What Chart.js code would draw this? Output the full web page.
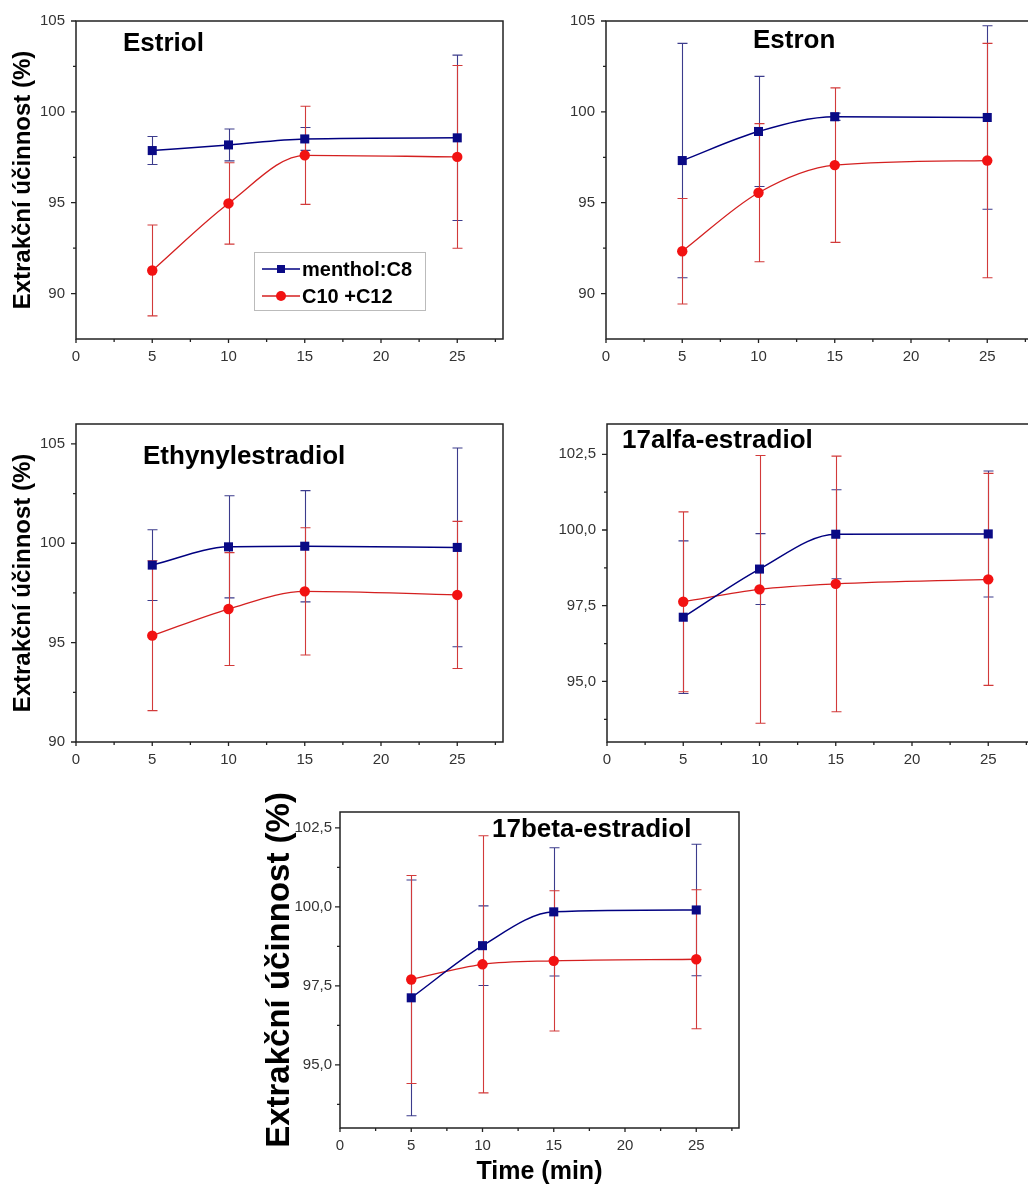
<!DOCTYPE html>
<html>
<head>
<meta charset="utf-8">
<script src="https://cdn.jsdelivr.net/npm/chart.js@4.4.1/dist/chart.umd.min.js"></script>
<style>
  html, body { margin: 0; padding: 0; background: #fff; overflow: hidden; width: 1028px; height: 1189px; }
  canvas { position: absolute; }
</style>
</head>
<body>
<canvas id="p1" width="520" height="380" style="left:0px;top:0px"></canvas>
<canvas id="p2" width="530" height="380" style="left:520px;top:0px"></canvas>
<canvas id="p3" width="520" height="380" style="left:0px;top:400px"></canvas>
<canvas id="p4" width="530" height="380" style="left:520px;top:400px"></canvas>
<canvas id="p5" width="530" height="399" style="left:230px;top:790px"></canvas>
<script>
// extraction time (min) and the two solvents
var times = [5, 10, 15, 25];
var seriesNames = ['menthol:C8', 'C10 +C12'];
var yTitle = 'Extrakční účinnost (%)';
var xTitle = 'Time (min)';

// tick labels
var xTicks = [0, 5, 10, 15, 20, 25];
var xMinor = [2.5, 7.5, 12.5, 17.5, 22.5, 27.5];
var yTicksWhole = [90, 95, 100, 105];
var yMinorWhole = [92.5, 97.5, 102.5];
var yTicksHalf = [95, 97.5, 100, 102.5];
var yMinorHalf = [93.75, 96.25, 98.75, 101.25];

// Estriol
var estriolMenthol = [97.87, 98.18, 98.51, 98.57];
var estriolMentholErr = [0.77, 0.88, 0.63, 4.55];
var estriolC10 = [91.27, 94.96, 97.61, 97.52];
var estriolC10Err = [2.5, 2.24, 2.7, 5.03];

// Estron
var estronMenthol = [97.32, 98.92, 99.73, 99.69];
var estronMentholErr = [6.45, 3.03, 0.2, 5.05];
var estronC10 = [92.33, 95.55, 97.07, 97.32];
var estronC10Err = [2.9, 3.8, 4.25, 6.45];

// Ethynylestradiol
var ethynylMenthol = [98.9, 99.82, 99.85, 99.79];
var ethynylMentholErr = [1.78, 2.57, 2.8, 5.0];
var ethynylC10 = [95.35, 96.69, 97.58, 97.4];
var ethynylC10Err = [3.77, 2.84, 3.2, 3.7];

// 17alfa-estradiol
var alfaMenthol = [97.12, 98.71, 99.86, 99.87];
var alfaMentholErr = [2.52, 1.17, 1.47, 2.08];
var alfaC10 = [97.63, 98.04, 98.22, 98.37];
var alfaC10Err = [2.97, 4.42, 4.22, 3.5];

// 17beta-estradiol
var betaMenthol = [97.12, 98.77, 99.84, 99.9];
var betaMentholErr = [3.73, 1.26, 2.03, 2.08];
var betaC10 = [97.7, 98.18, 98.29, 98.34];
var betaC10Err = [3.29, 4.07, 2.22, 2.2];

var FONT = "'Liberation Sans', Arial, sans-serif";
Chart.defaults.font.family = FONT;
Chart.defaults.color = '#333';

// error bars, frame, ticks, panel name, legend
var panelDeco = {
    id: 'panelDeco',
    beforeDatasetsDraw: function(chart) {
        var ctx = chart.ctx;
        var yScale = chart.scales.y;
        chart.data.datasets.forEach(function(ds, i) {
            var meta = chart.getDatasetMeta(i);
            ctx.save();
            ctx.strokeStyle = ds.errColor;
            ctx.lineWidth = 1.1;
            meta.data.forEach(function(pt, j) {
                var v = ds.data[j].y, e = ds.errors[j];
                var x = Math.round(pt.x) + 0.5;
                var top = yScale.getPixelForValue(v + e);
                var bot = yScale.getPixelForValue(v - e);
                ctx.beginPath();
                ctx.moveTo(x, top); ctx.lineTo(x, bot);
                ctx.moveTo(x - 5, top); ctx.lineTo(x + 5, top);
                ctx.moveTo(x - 5, bot); ctx.lineTo(x + 5, bot);
                ctx.stroke();
            });
            ctx.restore();
        });
    },
    afterDraw: function(chart, args, opts) {
        var ctx = chart.ctx;
        var a = chart.chartArea;
        var xs = chart.scales.x, ys = chart.scales.y;
        ctx.save();
        ctx.strokeStyle = '#222';
        ctx.lineWidth = 1.5;
        ctx.strokeRect(a.left, a.top, a.right - a.left, a.bottom - a.top);
        ctx.lineWidth = 1.3;
        ctx.beginPath();
        opts.yTicks.forEach(function(v) {
            var y = ys.getPixelForValue(v);
            ctx.moveTo(a.left - 5, y); ctx.lineTo(a.left, y);
        });
        opts.yMinor.forEach(function(v) {
            var y = ys.getPixelForValue(v);
            ctx.moveTo(a.left - 3, y); ctx.lineTo(a.left, y);
        });
        xTicks.forEach(function(v) {
            var x = xs.getPixelForValue(v);
            ctx.moveTo(x, a.bottom); ctx.lineTo(x, a.bottom + 4);
        });
        xMinor.forEach(function(v) {
            var x = xs.getPixelForValue(v);
            ctx.moveTo(x, a.bottom); ctx.lineTo(x, a.bottom + 3);
        });
        ctx.stroke();

        // panel name
        ctx.fillStyle = '#000';
        ctx.font = 'bold 26px ' + FONT;
        ctx.textBaseline = 'middle';
        ctx.textAlign = 'left';
        ctx.fillText(opts.label, a.left + opts.labelAt[0], a.top + opts.labelAt[1]);

        if (opts.legend) {
            var bx = a.left + 178, by = a.top + 231;
            ctx.strokeStyle = '#bbb';
            ctx.lineWidth = 1;
            ctx.strokeRect(bx + 0.5, by + 0.5, 171, 58);
            ctx.font = 'bold 20px ' + FONT;
            chart.data.datasets.forEach(function(ds, i) {
                var ry = by + 17 + i * 27;
                ctx.strokeStyle = ds.borderColor;
                ctx.lineWidth = 1.5;
                ctx.beginPath();
                ctx.moveTo(bx + 8, ry); ctx.lineTo(bx + 46, ry);
                ctx.stroke();
                ctx.fillStyle = ds.pointBackgroundColor;
                if (ds.pointStyle === 'rect') {
                    ctx.fillRect(bx + 23, ry - 4, 8, 8);
                } else {
                    ctx.beginPath();
                    ctx.arc(bx + 27, ry, 5, 0, Math.PI * 2);
                    ctx.fill();
                }
                ctx.fillStyle = '#000';
                ctx.fillText(ds.label, bx + 48, ry + 1);
            });
        }
        ctx.restore();
    }
};

function points(vals) {
    return times.map(function(t, i) { return {x: t, y: vals[i]}; });
}

function makePanel(p) {
    var yAll = p.yTicks.concat(p.yMinor).sort(function(a, b) { return a - b; });
    var fmt = function(v) {
        return p.comma ? v.toFixed(1).replace('.', ',') : String(v);
    };
    new Chart(document.getElementById(p.id), {
        type: 'line',
        data: {
            datasets: [{
                label: seriesNames[0],
                data: points(p.menthol),
                errors: p.mentholErr,
                errColor: '#3c3c8c',
                borderColor: '#000080',
                borderWidth: 1.5,
                pointStyle: 'rect',
                pointRadius: 6.4,
                pointBackgroundColor: '#0a0a85',
                pointBorderWidth: 0,
                cubicInterpolationMode: 'monotone'
            }, {
                label: seriesNames[1],
                data: points(p.c10),
                errors: p.c10Err,
                errColor: '#d23a3a',
                borderColor: '#d42020',
                borderWidth: 1.3,
                pointStyle: 'circle',
                pointRadius: 5.2,
                pointBackgroundColor: '#f21212',
                pointBorderWidth: 0,
                cubicInterpolationMode: 'monotone'
            }]
        },
        options: {
            responsive: false,
            animation: false,
            layout: { padding: { top: p.top, right: p.right, left: 0, bottom: 0 } },
            plugins: {
                legend: { display: false },
                tooltip: { enabled: false },
                panelDeco: {
                    label: p.label,
                    labelAt: p.labelAt,
                    yTicks: p.yTicks,
                    yMinor: p.yMinor,
                    legend: p.legend
                }
            },
            scales: {
                x: {
                    type: 'linear',
                    min: 0,
                    max: 28,
                    grid: { display: false, tickLength: 4 },
                    border: { display: false },
                    afterBuildTicks: function(s) { s.ticks = xTicks.map(function(v) { return {value: v}; }); },
                    afterFit: function(s) { s.height = p.xHeight; },
                    ticks: { autoSkip: false, maxRotation: 0, padding: 5, font: { size: 15 }, color: '#333' },
                    title: {
                        display: !!p.xTitle,
                        text: xTitle,
                        color: '#000',
                        font: { size: 25, weight: 'bold' },
                        padding: { top: 0, bottom: 2 }
                    }
                },
                y: {
                    min: p.yMin,
                    max: p.yMax,
                    grid: { display: false, tickLength: 5 },
                    border: { display: false },
                    afterBuildTicks: function(s) { s.ticks = yAll.map(function(v) { return {value: v}; }); },
                    afterFit: function(s) { s.width = p.yWidth; },
                    ticks: {
                        autoSkip: false,
                        padding: p.yPad,
                        font: { size: 15 },
                        color: '#333',
                        callback: function(v) { return p.yTicks.indexOf(v) >= 0 ? fmt(v) : ''; }
                    },
                    title: {
                        display: !!p.yTitle,
                        text: yTitle,
                        color: '#000',
                        font: { size: p.yTitle ? p.yTitle.size : 12, weight: 'bold' },
                        padding: { top: p.yTitle ? p.yTitle.pad : 0, bottom: 0 }
                    }
                }
            }
        },
        plugins: [panelDeco]
    });
}

makePanel({ id: 'p1', label: 'Estriol', labelAt: [47, 23], legend: true,
    menthol: estriolMenthol, mentholErr: estriolMentholErr, c10: estriolC10, c10Err: estriolC10Err,
    yMin: 87.5, yMax: 105, yTicks: yTicksWhole, yMinor: yMinorWhole, comma: false,
    top: 21, right: 17, yWidth: 76, xHeight: 41, yPad: 6, yTitle: { size: 24, pad: 9 } });

makePanel({ id: 'p2', label: 'Estron', labelAt: [147, 20],
    menthol: estronMenthol, mentholErr: estronMentholErr, c10: estronC10, c10Err: estronC10Err,
    yMin: 87.5, yMax: 105, yTicks: yTicksWhole, yMinor: yMinorWhole, comma: false,
    top: 21, right: 17, yWidth: 86, xHeight: 41, yPad: 6 });

makePanel({ id: 'p3', label: 'Ethynylestradiol', labelAt: [67, 33],
    menthol: ethynylMenthol, mentholErr: ethynylMentholErr, c10: ethynylC10, c10Err: ethynylC10Err,
    yMin: 90, yMax: 106, yTicks: yTicksWhole, yMinor: yMinorWhole, comma: false,
    top: 24, right: 17, yWidth: 76, xHeight: 38, yPad: 6, yTitle: { size: 24, pad: 9 } });

makePanel({ id: 'p4', label: '17alfa-estradiol', labelAt: [15, 17],
    menthol: alfaMenthol, mentholErr: alfaMentholErr, c10: alfaC10, c10Err: alfaC10Err,
    yMin: 93, yMax: 103.5, yTicks: yTicksHalf, yMinor: yMinorHalf, comma: true,
    top: 24, right: 16, yWidth: 87, xHeight: 38, yPad: 6 });

makePanel({ id: 'p5', label: '17beta-estradiol', labelAt: [152, 18],
    menthol: betaMenthol, mentholErr: betaMentholErr, c10: betaC10, c10Err: betaC10Err,
    yMin: 93, yMax: 103, yTicks: yTicksHalf, yMinor: yMinorHalf, comma: true,
    top: 22, right: 21, yWidth: 110, xHeight: 61, yPad: 3, yTitle: { size: 33, pad: 30 }, xTitle: true });
</script>
</body>
</html>
